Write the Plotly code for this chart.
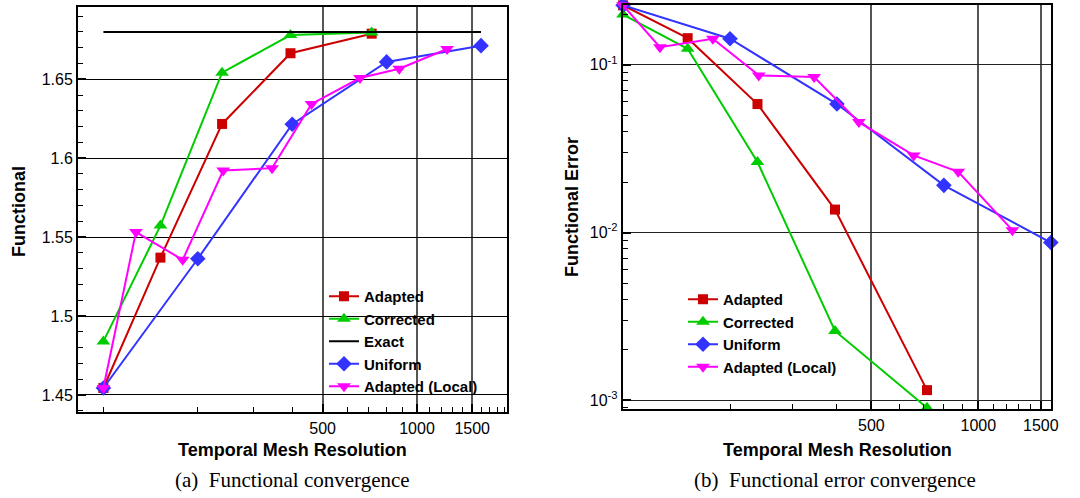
import plotly.graph_objects as go

# ---- data ----
res_adapted = [100, 152, 239, 395, 717]
res_uniform = [100, 200, 400, 800, 1600]
res_local = [100, 127, 179, 241, 345, 461, 658, 878, 1247]
res_exact = [100, 1600]

fun_adapted = [1.4544, 1.537, 1.6217, 1.6665, 1.6789]
fun_corrected = [1.4839, 1.5573, 1.6542, 1.678, 1.6797]
fun_uniform = [1.4544, 1.5363, 1.6215, 1.661, 1.6713]
fun_local = [1.4544, 1.5532, 1.5356, 1.5922, 1.5937, 1.6344, 1.6508, 1.6567, 1.6692]
fun_exact = [1.68, 1.68]

err_adapted = [0.226, 0.144, 0.0583, 0.0137, 0.00115]
err_corrected = [0.199, 0.1245, 0.0263, 0.00259, 0.000904]
err_uniform = [0.226, 0.1429, 0.0583, 0.0191, 0.00872]
err_local = [0.226, 0.1273, 0.1429, 0.0864, 0.0844, 0.0455, 0.0288, 0.0230, 0.01033]

x_tick_vals = [500, 1000, 1500]
x_tick_text = ["500", "1000", "1500"]
y1_tick_vals = [1.45, 1.5, 1.55, 1.6, 1.65]
y1_tick_text = ["1.45", "1.5", "1.55", "1.6", "1.65"]
y2_tick_vals = [1e-3, 1e-2, 1e-1]
y2_tick_text = ["10<sup>-3</sup>", "10<sup>-2</sup>", "10<sup>-1</sup>"]

RED = "#CC0000"
GREEN = "#00CC00"
BLUE = "#3333FF"
MAG = "#FF00FF"
SANS = "Liberation Sans, Arial, sans-serif"
SERIF = "Liberation Serif, Times New Roman, serif"

W, H = 1080, 498

fig = go.Figure()

def add(x, y, name, color, symbol, size, xa, ya, legend, showmarker=True):
    fig.add_trace(go.Scatter(
        x=x, y=y, name=name, xaxis=xa, yaxis=ya, legend=legend,
        mode="lines+markers" if showmarker else "lines",
        line=dict(color=color, width=2),
        marker=dict(symbol=symbol, size=size, color=color, line=dict(width=0)),
        cliponaxis=False,
    ))

# left panel
add(res_adapted, fun_adapted, "Adapted", RED, "square", 10, "x", "y", "legend")
add(res_adapted, fun_corrected, "Corrected", GREEN, "triangle-up", 12, "x", "y", "legend")
add(res_exact, fun_exact, "Exact", "black", "circle", 1, "x", "y", "legend", showmarker=False)
add(res_uniform, fun_uniform, "Uniform", BLUE, "diamond", 12, "x", "y", "legend")
add(res_local, fun_local, "Adapted (Local)", MAG, "triangle-down", 12, "x", "y", "legend")

# right panel
add(res_adapted, err_adapted, "Adapted", RED, "square", 10, "x2", "y2", "legend2")
add(res_adapted, err_corrected, "Corrected", GREEN, "triangle-up", 12, "x2", "y2", "legend2")
add(res_uniform, err_uniform, "Uniform", BLUE, "diamond", 12, "x2", "y2", "legend2")
add(res_local, err_local, "Adapted (Local)", MAG, "triangle-down", 12, "x2", "y2", "legend2")

minor_x = [v for v in list(range(100, 1000, 100)) + list(range(1100, 2000, 100)) if v not in x_tick_vals]
minor_y1 = [round(1.44 + 0.01 * i, 2) for i in range(26)]
minor_y2 = [m * 10.0 ** e for e in (-4, -3, -2, -1) for m in range(2, 10)]

def xaxis(domain, rng, anchor):
    return dict(
        type="log", domain=domain, range=rng, anchor=anchor,
        tickmode="array", tickvals=x_tick_vals, ticktext=x_tick_text,
        ticks="inside", ticklen=8, tickwidth=1.5, tickcolor="black",
        showgrid=True, gridcolor="#555555", gridwidth=1.5,
        showline=True, linecolor="black", linewidth=2, mirror=True,
        zeroline=False, automargin=False,
        tickfont=dict(family=SANS, size=16, color="black"),
        minor=dict(tickmode="array", tickvals=minor_x, ticks="inside",
                   ticklen=5, tickwidth=1, tickcolor="black", showgrid=False),
    )

fig.update_layout(
    width=W, height=H, autosize=False,
    margin=dict(l=0, r=0, t=0, b=0, pad=0),
    paper_bgcolor="white", plot_bgcolor="white",
    showlegend=True,
    xaxis=xaxis([78 / W, 507 / W], [1.919, 3.287], "y"),
    xaxis2=xaxis([622.7 / W, 1051 / W], [1.999, 3.2046], "y2"),
    yaxis=dict(
        domain=[1 - 412.3 / H, 1 - 7.3 / H], range=[1.439, 1.6956], anchor="x",
        tickmode="array", tickvals=y1_tick_vals, ticktext=y1_tick_text,
        ticks="inside", ticklen=8, tickwidth=1.5, tickcolor="black",
        showgrid=True, gridcolor="black", gridwidth=1.2,
        showline=True, linecolor="black", linewidth=2, mirror=True,
        zeroline=False, automargin=False,
        tickfont=dict(family=SANS, size=16, color="black"),
        minor=dict(tickmode="array", tickvals=minor_y1, ticks="inside",
                   ticklen=5, tickwidth=1, tickcolor="black", showgrid=False),
    ),
    yaxis2=dict(
        type="log",
        domain=[1 - 409.3 / H, 1 - 5 / H], range=[-3.0536, -0.644], anchor="x2",
        tickmode="array", tickvals=y2_tick_vals, ticktext=y2_tick_text,
        ticks="inside", ticklen=8, tickwidth=1.5, tickcolor="black",
        showgrid=True, gridcolor="#222222", gridwidth=1.2,
        showline=True, linecolor="black", linewidth=2, mirror=True,
        zeroline=False, automargin=False,
        tickfont=dict(family=SANS, size=16, color="black"),
        minor=dict(tickmode="array", tickvals=minor_y2, ticks="inside",
                   ticklen=5, tickwidth=1, tickcolor="black", showgrid=False),
    ),
    legend=dict(
        x=324 / W, y=1 - 280 / H, xanchor="left", yanchor="top",
        bgcolor="rgba(255,255,255,0)", borderwidth=0,
        font=dict(family=SANS, size=15, color="black", weight="bold"),
        tracegroupgap=0, itemwidth=30,
    ),
    legend2=dict(
        x=683 / W, y=1 - 283 / H, xanchor="left", yanchor="top",
        bgcolor="rgba(255,255,255,0)", borderwidth=0,
        font=dict(family=SANS, size=15, color="black", weight="bold"),
        tracegroupgap=0, itemwidth=30,
    ),
)

def ann(text, x, y, size, family, bold=False, angle=0):
    fig.add_annotation(
        text=f"<b>{text}</b>" if bold else text,
        x=x / W, y=1 - y / H, xref="paper", yref="paper",
        xanchor="center", yanchor="middle", showarrow=False, textangle=angle,
        font=dict(family=family, size=size, color="black"),
    )

ann("Temporal Mesh Resolution", 292, 450, 18, SANS, bold=True)
ann("Temporal Mesh Resolution", 837, 450, 18, SANS, bold=True)
ann("Functional", 19, 212, 18, SANS, bold=True, angle=-90)
ann("Functional Error", 572, 207, 18, SANS, bold=True, angle=-90)
ann("(a)  Functional convergence", 292, 480, 21, SERIF)
ann("(b)  Functional error convergence", 835, 480, 21, SERIF)

fig.write_html("out.html")
